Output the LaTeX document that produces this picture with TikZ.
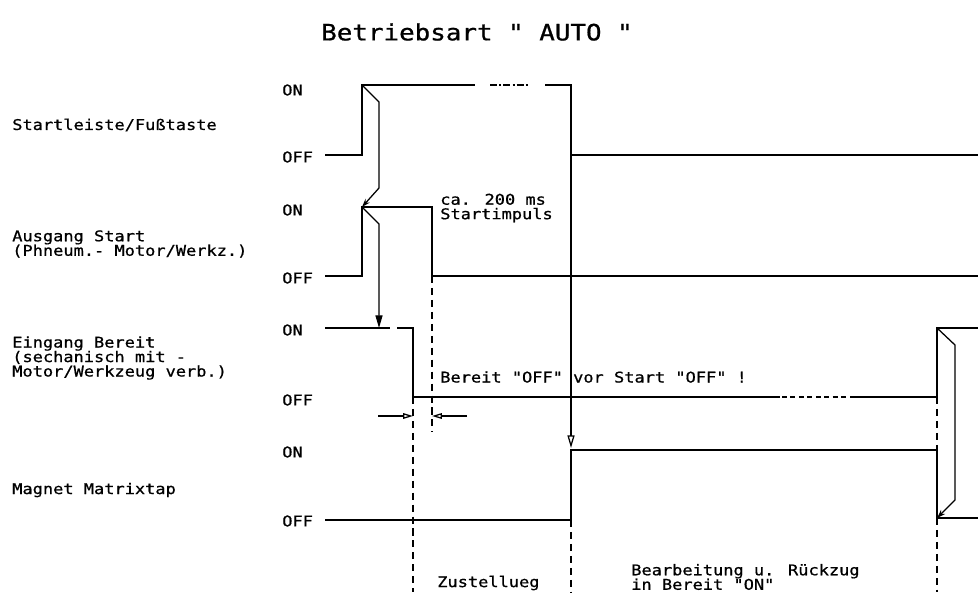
\documentclass[tikz,border=0pt]{standalone}
\usepackage{fontspec}
\newfontfamily\plotfont[FakeStretch=1.15, FakeBold=0.8]{DejaVu Sans Mono}
\usetikzlibrary{arrows.meta}

\tikzstyle{signal} = [line width=1.2pt, line join=miter]
\tikzstyle{guide} = [line width=0.9pt, dash pattern=on 5pt off 3.5pt]
\tikzstyle{cause} = [line width=0.9pt]
\tikzstyle{lbl} = [font=\plotfont\fontsize{10.5}{10.3}\selectfont, inner sep=0pt, anchor=west, align=left]
\tikzstyle{headline} = [font=\plotfont\fontsize{16}{18}\selectfont, inner sep=0pt]

\begin{document}
\begin{tikzpicture}[x=0.025cm, y=-0.025cm]
\useasboundingbox (0,0) rectangle (978,598);

\node[headline] (titel) at (477,32) {Betriebsart " AUTO "};

% Signalnamen
\node[lbl] (startleiste) at (12,125) {Startleiste/Fußtaste};
\node[lbl] (ausgang) at (12,244) {Ausgang Start\\(Phneum.- Motor/Werkz.)};
\node[lbl] (eingang) at (12,358) {Eingang Bereit\\(sechanisch mit -\\Motor/Werkzeug verb.)};
\node[lbl] (magnet) at (12,490) {Magnet Matrixtap};

\node[lbl] (on1) at (282,90) {ON};
\node[lbl] (off1) at (282,157) {OFF};
\node[lbl] (on2) at (282,210) {ON};
\node[lbl] (off2) at (282,278) {OFF};
\node[lbl] (on3) at (282,330) {ON};
\node[lbl] (off3) at (282,400) {OFF};
\node[lbl] (on4) at (282,452) {ON};
\node[lbl] (off4) at (282,521) {OFF};

% Flanken
\coordinate (s1auf) at (362,85);
\coordinate (s1ab) at (571,155);
\coordinate (s2auf) at (362,207);
\coordinate (s2ab) at (432,276);
\coordinate (s3ab) at (413,397);
\coordinate (s3auf) at (937,328);
\coordinate (s4auf) at (571,450);
\coordinate (s4ab) at (937,518);

% Startleiste
\draw[signal] (325,155) -- (s1auf |- s1ab) -- (s1auf) -- (475,85);
\draw[signal, dash pattern=on 5pt off 1.5pt on 1.5pt off 1.5pt] (490,85) -- (530,85);
\draw[signal] (545,85) -- (s1ab |- s1auf) -- (s1ab) -- (978,155);

% Ausgang Start
\draw[signal] (325,276) -- (s2auf |- s2ab) -- (s2auf) -- (s2ab |- s2auf) -- (s2ab) -- (978,276);

% Eingang Bereit
\draw[signal] (325,328) -- (390,328);
\draw[signal] (397,328) -- (s3ab |- s3auf) -- (s3ab) -- (780,397);
\draw[signal, dash pattern=on 3.5pt off 2.5pt] (782,397) -- (848,397);
\draw[signal] (850,397) -- (s3auf |- s3ab) -- (s3auf) -- (978,328);

% Magnet Matrixtap
\draw[signal] (325,520) -- (571,520) -- (s4auf) -- (s4ab |- s4auf) -- (s4ab) -- (978,518);

% Hilfslinien
\draw[guide] (s2ab) -- (432,432);
\draw[guide] (s3ab) -- (413,592);
\draw[guide] (571,520) -- (571,592);
\draw[guide] (s3auf |- s3ab) -- (s4ab |- s4auf);
\draw[guide] (s4ab) -- (937,592);

% Wirkpfeile
\draw[cause, -{Stealth[open, length=6pt, width=4pt]}] (s1auf) -- (379,102) -- (379,188) -- (s2auf);
\draw[cause, -{Triangle[length=9pt, width=5pt]}] (s2auf) -- (379,224) -- (379,328);
\draw[cause, -{Triangle[open, length=9pt, width=5pt]}] (s1ab) -- (571,448);
\draw[cause, -{Stealth[open, length=6pt, width=4pt]}] (s3auf) -- (955,345) -- (955,500) -- (s4ab);

% Zeitabstand
\draw[cause, -{Triangle[open, length=7pt, width=4pt]}] (378,416) -- (413,416);
\draw[cause, -{Triangle[open, length=7pt, width=4pt]}] (467,416) -- (432,416);

% Beschriftungen
\node[lbl] (impuls) at (440,208) {ca. 200 ms\\Startimpuls};
\node[lbl] (vorher) at (440,377) {Bereit "OFF" vor Start "OFF" !};
\node[lbl] (zustell) at (437,583) {Zustellueg};
\node[lbl] (bearb) at (631,577) {Bearbeitung u. Rückzug\\in Bereit "ON"};
\end{tikzpicture}
\end{document}
